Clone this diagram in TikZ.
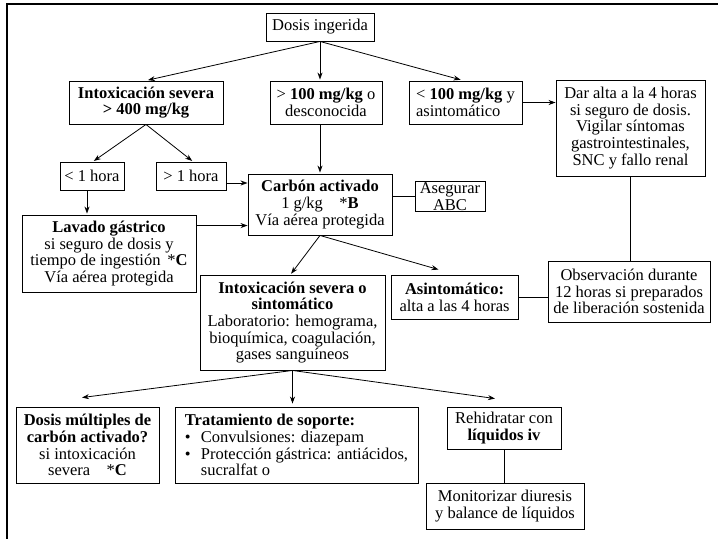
\documentclass[tikz,border=0pt]{standalone}
\usepackage{fontspec}
\setmainfont{Liberation Serif}
\usetikzlibrary{arrows.meta,calc}
\begin{document}
\begin{tikzpicture}[x=1pt,y=-1pt,
  box/.style={draw, line width=0.9pt, inner sep=0pt, align=center,
    font=\fontsize{16.5}{16.7}\selectfont},
  arr/.style={-{Stealth[length=7pt,width=5pt]}, line width=0.8pt},
  link/.style={line width=0.8pt},
  frame/.style={line width=1.1pt}]
\useasboundingbox (0,0) rectangle (718,539);
% frame (top and left edges only)
\coordinate (fa) at (718,4);
\coordinate (fb) at (7,4);
\coordinate (fc) at (7,539);
\draw[frame] (fa) -- (fb) -- (fc);

% nodes
\node[box, minimum width=108pt, minimum height=28pt] (dosis) at (320,27) {Dosis ingerida};
\node[box, minimum width=154pt, minimum height=43pt] (isev) at (146,102.5)
  {\textbf{Intoxicación severa}\\\textbf{> 400 mg/kg}};
\node[box, minimum width=112pt, minimum height=43pt] (mayor) at (326,102.5)
  {> \textbf{100 mg/kg} o\\desconocida};
\node[box, align=left, minimum width=113pt, minimum height=43pt] (menor) at (465.5,102.5)
  {< \textbf{100 mg/kg} y\\asintomático};
\node[box, minimum width=149pt, minimum height=96pt] (dar) at (630.5,128)
  {Dar alta a la 4 horas\\si seguro de dosis.\\Vigilar síntomas\\gastrointestinales,\\SNC y fallo renal};
\node[box, minimum width=64pt, minimum height=28pt] (lt) at (92,176) {< 1 hora};
\node[box, minimum width=70pt, minimum height=28pt] (gt) at (191,176) {> 1 hora};
\node[box, minimum width=144pt, minimum height=61pt] (carbon) at (320,204.5)
  {\textbf{Carbón activado}\\1 g/kg\quad *\textbf{B}\\Vía aérea protegida};
\node[box, minimum width=70pt, minimum height=30pt] (abc) at (450,196.5)
  {Asegurar\\ABC};
\node[box, minimum width=174pt, minimum height=77pt] (lavado) at (109,253.5)
  {\textbf{Lavado gástrico}\\si seguro de dosis y\\tiempo de ingestión\ \,*\textbf{C}\\Vía aérea protegida};
\node[box, minimum width=185pt, minimum height=95pt] (isint) at (292.5,322.5)
  {\textbf{Intoxicación severa o}\\\textbf{sintomático}\\Laboratorio: hemograma,\\bioquímica, coagulación,\\gases sanguíneos};
\node[box, minimum width=127pt, minimum height=44pt] (asint) at (454.5,297)
  {\textbf{Asintomático:}\\alta a las 4 horas};
\node[box, minimum width=162pt, minimum height=61pt] (obs) at (629,291.5)
  {Observación durante\\12 horas si preparados\\de liberación sostenida};
\node[box, minimum width=143pt, minimum height=76pt] (dm) at (87.5,445)
  {\textbf{Dosis múltiples de}\\\textbf{carbón activado?}\\si intoxicación\\severa\quad*\textbf{C}};
\node[box, align=left, minimum width=243pt, minimum height=76pt] (trat) at (296.5,445)
  {\textbf{Tratamiento de soporte:}\\\makebox[16pt][l]{\textbullet}Convulsiones: diazepam\\\makebox[16pt][l]{\textbullet}Protección gástrica: antiácidos,\\\hspace*{16pt}sucralfat o};
\node[box, minimum width=114pt, minimum height=42pt] (rehid) at (504,428)
  {Rehidratar con\\\textbf{líquidos iv}};
\node[box, minimum width=158pt, minimum height=46pt] (monit) at (505,506)
  {Monitorizar diuresis\\y balance de líquidos};

% connectors
\draw[arr, shorten >=2pt] (dosis.south) -- (isev.north);
\draw[arr, shorten >=1pt] (dosis.south) -- (dosis.south |- mayor.north);
\draw[arr, shorten >=3pt] (dosis.south) -- ($(menor.north)+(-2,0)$);
\draw[arr, shorten >=1pt] (isev.south) -- ($(lt.north)+(1,0)$);
\draw[arr, shorten >=1pt] (isev.south) -- ($(gt.north)+(2,0)$);
\draw[arr, shorten >=1pt] (carbon.north |- mayor.south) -- (carbon.north);
\draw[arr] (menor.east) -- (menor.east -| dar.west);
\draw[arr, shorten >=1pt] ($(lt.south)+(-5,0)$) -- ($(lt.south |- lavado.north)+(-5,0)$);
\draw[arr] ([yshift=-7pt]gt.east) -- ([yshift=-7pt]gt.east -| carbon.west);
\draw[arr] ([yshift=-11pt]lavado.north east) -- ([yshift=-11pt]lavado.north east -| carbon.west);
\draw[link] (abc.west -| carbon.east) -- (abc.west);
\draw[arr, shorten >=1pt] (carbon.south) -- ($(isint.north)+(-2,0)$);
\draw[arr] (carbon.south) -- ($(asint.north)+(-16,-5)$);
\draw[link] (dar.south) -- (dar.south |- obs.north);
\draw[link] (asint.east) -- (asint.east -| obs.west);
\draw[arr] (isint.south) -- ($(dm.north)+(-5.5,-9)$);
\draw[arr, shorten >=3pt] (isint.south) -- (isint.south |- trat.north);
\draw[arr] (isint.south) -- ($(rehid.north)+(-9,-8)$);
\draw[link] (rehid.south) -- (rehid.south |- monit.north);
\end{tikzpicture}
\end{document}
